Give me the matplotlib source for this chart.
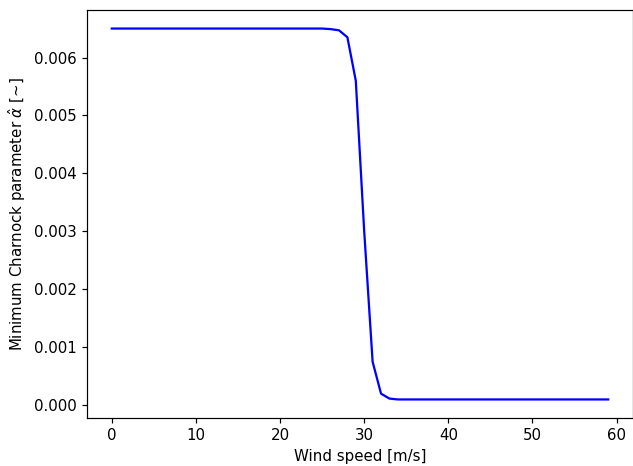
import matplotlib
matplotlib.use("Agg")
import matplotlib.pyplot as plt

# Wind speed [m/s], 0..59
wind_speed = list(range(60))

# Minimum Charnock parameter
alpha_min = [
    0.0065, 0.0065, 0.0065, 0.0065, 0.0065, 0.0065, 0.0065, 0.0065, 0.0065, 0.0065,
    0.0065, 0.0065, 0.0065, 0.0065, 0.0065, 0.0065, 0.0065, 0.0065, 0.0065, 0.0065,
    0.0065, 0.0065, 0.0065, 0.0065, 0.0065, 0.0065, 0.00649, 0.00647, 0.00635, 0.0056,
    0.0030, 0.00075, 0.0002, 0.000115, 0.0001, 0.0001, 0.0001, 0.0001, 0.0001, 0.0001,
    0.0001, 0.0001, 0.0001, 0.0001, 0.0001, 0.0001, 0.0001, 0.0001, 0.0001, 0.0001,
    0.0001, 0.0001, 0.0001, 0.0001, 0.0001, 0.0001, 0.0001, 0.0001, 0.0001, 0.0001,
]

fig = plt.figure(figsize=(633 / 108, 466 / 108), dpi=108)
# axes placed to match the reference frame (right spine sits at the edge)
ax = fig.add_axes([87 / 633, 48 / 466, 546 / 633, 408 / 466])
ax.plot(wind_speed, alpha_min, color="blue")
ax.set_xlabel("Wind speed [m/s]")
ax.set_ylabel(r"Minimum Charnock parameter $\hat{\alpha}$ [~]")
fig.savefig("out.png")
